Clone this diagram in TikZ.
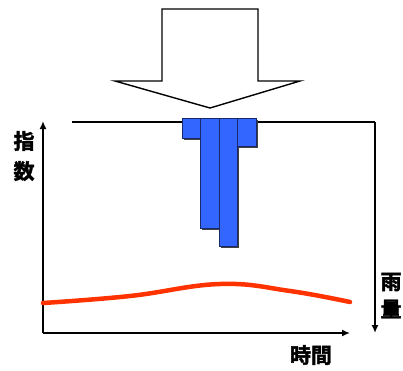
\documentclass[tikz,border=0pt]{standalone}
\usepackage{fontspec}
\newfontfamily\cjk[FakeBold=2]{Noto Sans CJK JP Bold}
\usetikzlibrary{arrows.meta}
\definecolor{barblue}{HTML}{3366FF}
\definecolor{baredge}{HTML}{1A2A66}
\definecolor{rainred}{HTML}{FF3300}
\begin{document}
\begin{tikzpicture}[x=1pt,y=-1pt,
  axis/.style={line width=2pt,-{Latex[length=8pt,width=7pt]}},
  frame/.style={line width=2pt},
  bar/.style={fill=barblue,draw=baredge,line width=0.9pt},
  shadow/.style={fill=black!75,draw=none},
  lbl/.style={font=\cjk\fontsize{21}{22}\selectfont,inner sep=0pt}]
\useasboundingbox (0,0) rectangle (403,370);
% big input arrow
\draw[line width=1.4pt,fill=white,line join=miter]
  (162,9) -- (258,9) -- (258,81) -- (300,81) -- (210,108) -- (115,81) -- (162,81) -- cycle;
% top frame and rainfall axis
\coordinate (tl) at (72,122);
\coordinate (tr) at (375,122);
\coordinate (rb) at (375,333);
\draw[frame] (tl) -- (tr);
\draw[axis] (tr) -- (rb);
% index and time axes
\coordinate (o) at (43,333);
\coordinate (ytop) at (43,121);
\coordinate (xend) at (350,333);
\draw[axis] (o) -- (ytop);
\draw[axis] (o) -- (xend);
% bar shadows
\foreach \a/\b/\c in {182/200/138,200/219/228,219/237/246,237/256/146}
  \fill[shadow] (\a+2,120) rectangle (\b+2,\c+2);
% bars
\foreach \a/\b/\c in {182/200/138,200/219/228,219/237/246,237/256/146}
  \draw[bar] (\a,118) rectangle (\b,\c);
% rainfall-index curve
\draw[rainred,line width=4.5pt,line cap=round]
  plot[smooth,tension=0.7] coordinates {(43,303) (130,296) (220,284) (290,291) (350,302)};
% labels
\node[lbl] (l1) at (24,141) {指};
\node[lbl] (l2) at (24,171) {数};
\node[lbl] (r1) at (391,282) {雨};
\node[lbl] (r2) at (391,309) {量};
\node[lbl] (t) at (311,355) {時間};
\end{tikzpicture}
\end{document}
